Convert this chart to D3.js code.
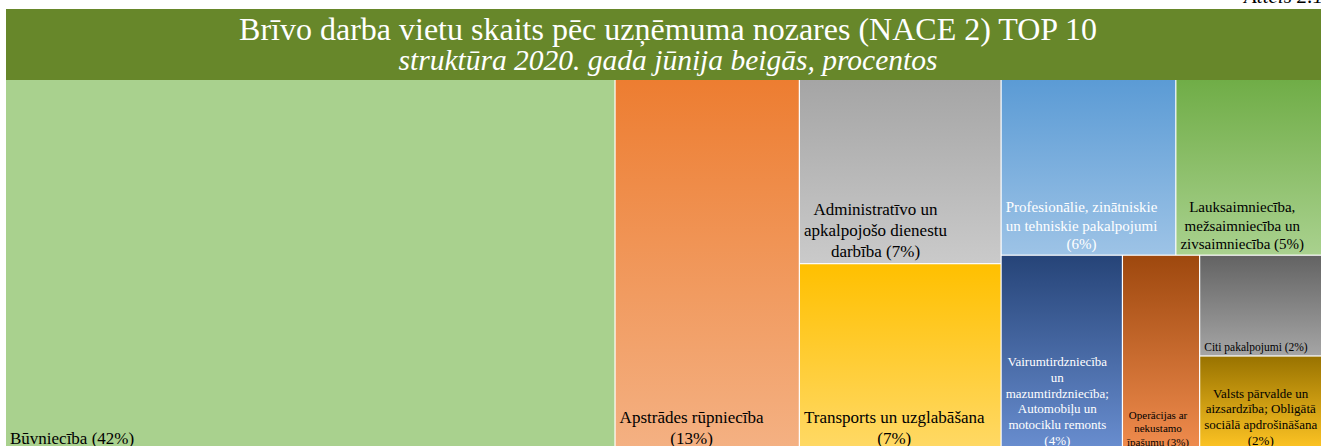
<!DOCTYPE html>
<html><head><meta charset="utf-8">
<script src="https://cdn.jsdelivr.net/npm/d3@7"></script>
<style>html,body{margin:0;padding:0;background:#fff;overflow:hidden}</style>
</head><body><svg id="c" width="1321" height="446"></svg>
<script>
// ---- data ----
const categories = [
  "Būvniecība",
  "Apstrādes rūpniecība",
  "Administratīvo un apkalpojošo dienestu darbība",
  "Transports un uzglabāšana",
  "Profesionālie, zinātniskie un tehniskie pakalpojumi",
  "Lauksaimniecība, mežsaimniecība un zivsaimniecība",
  "Vairumtirdzniecība un mazumtirdzniecība; Automobiļu un motociklu remonts",
  "Operācijas ar nekustamo īpašumu",
  "Citi pakalpojumi",
  "Valsts pārvalde un aizsardzība; Obligātā sociālā apdrošināšana"
];
const shares = [42.0, 12.7, 6.9, 7.0, 5.7, 5.05, 4.4, 2.8, 2.45, 2.3];
// nesting of the tiles (category indexes), as arranged in the original treemap
const tiling = [0, 1, [2, 3], [[4, 5], [6, 7, [8, 9]]]];
const titleText = "Brīvo darba vietu skaits pēc uzņēmuma nozares (NACE 2) TOP 10";
const subtitleText = "struktūra 2020. gada jūnija beigās, procentos";
const figureText = "Attēls 2.1";

// ---- styles ----
const fillStops = [
  ["#A9D18E", "#A9D18E"],
  ["#ED7D31", "#F4B183"],
  ["#A5A5A5", "#CACACA"],
  ["#FFC000", "#FFD966"],
  ["#5B9BD5", "#9DC3E6"],
  ["#70AD47", "#A9D18E"],
  ["#264478", "#698ED0"],
  ["#9E480E", "#F08C4E"],
  ["#636363", "#A5A5A5"],
  ["#997300", "#FFC524"]
];
const textColors = ["#000","#000","#000","#000","#fff","#000","#fff","#000","#000","#000"];
const fontSizes = [17, 17, 17, 17, 15, 15, 13, 11, 11.5, 13];
const serif = "'Liberation Serif','Times New Roman',serif";

const svg = d3.select("#c");
const X0 = 6, X1 = 1330, Y0 = 80, Y1 = 450;

// header
svg.append("rect").attr("x", X0).attr("y", 9).attr("width", X1 - X0).attr("height", Y0 - 9)
  .attr("fill", "#67872A");
const cx = (X0 + X1) / 2;
svg.append("text").attr("x", cx).attr("y", 40).attr("text-anchor", "middle")
  .attr("font-family", serif).attr("font-size", 32).attr("fill", "#fff").text(titleText);
svg.append("text").attr("x", cx).attr("y", 70).attr("text-anchor", "middle")
  .attr("font-family", serif).attr("font-size", 29.5).attr("font-style", "italic")
  .attr("fill", "#fff").text(subtitleText);
svg.append("text").attr("x", 1244).attr("y", 3).attr("font-family", serif)
  .attr("font-size", 21).attr("font-style", "italic").attr("fill", "#000").text(figureText);

// hierarchy
function build(n) {
  return Array.isArray(n) ? {children: n.map(build)} : {index: n, name: categories[n], share: shares[n]};
}
const root = d3.hierarchy({children: tiling.map(build)}).sum(d => d.children ? 0 : d.share);
d3.treemap().tile(d3.treemapSliceDice).size([X1 - X0, Y1 - Y0]).paddingInner(1.2).round(false)(root);

const defs = svg.append("defs");
const g = svg.append("g").attr("transform", `translate(${X0},${Y0})`);
const leaves = root.leaves();

leaves.forEach(l => {
  const i = l.data.index;
  const gr = defs.append("linearGradient").attr("id", "grad" + i)
    .attr("x1", 0).attr("y1", 0).attr("x2", 0).attr("y2", 1);
  gr.append("stop").attr("offset", "0%").attr("stop-color", fillStops[i][0]);
  gr.append("stop").attr("offset", "100%").attr("stop-color", fillStops[i][1]);
});

g.selectAll("rect.cell").data(leaves).join("rect").attr("class", "cell")
  .attr("x", d => d.x0).attr("y", d => d.y0)
  .attr("width", d => d.x1 - d.x0).attr("height", d => d.y1 - d.y0)
  .attr("fill", d => `url(#grad${d.data.index})`);

// labels
const ctx = document.createElement("canvas").getContext("2d");
function wrap(text, width, font) {
  ctx.font = font;
  const words = text.split(" ");
  const lines = [];
  let line = "";
  for (const w of words) {
    const test = line ? line + " " + w : w;
    if (line && ctx.measureText(test).width > width) { lines.push(line); line = w; }
    else line = test;
  }
  if (line) lines.push(line);
  return lines;
}

leaves.forEach(l => {
  const i = l.data.index;
  const fs = fontSizes[i];
  const font = `${fs}px 'Liberation Serif'`;
  const pad = 4;
  const label = `${l.data.name} (${Math.round(l.data.share)}%)`;
  const lines = wrap(label, l.x1 - l.x0 - 2 * pad, font);
  ctx.font = font;
  const maxW = d3.max(lines, s => ctx.measureText(s).width);
  const tx = l.x0 + pad + maxW / 2;
  const lh = fs * 1.22;
  const lastBase = l.y1 - 0.3 * fs - 1;
  const t = g.append("text").attr("text-anchor", "middle").attr("font-family", serif)
    .attr("font-size", fs).attr("fill", textColors[i]);
  lines.forEach((s, k) => {
    t.append("tspan").attr("x", tx).attr("y", lastBase - (lines.length - 1 - k) * lh).text(s);
  });
});
</script></body></html>
